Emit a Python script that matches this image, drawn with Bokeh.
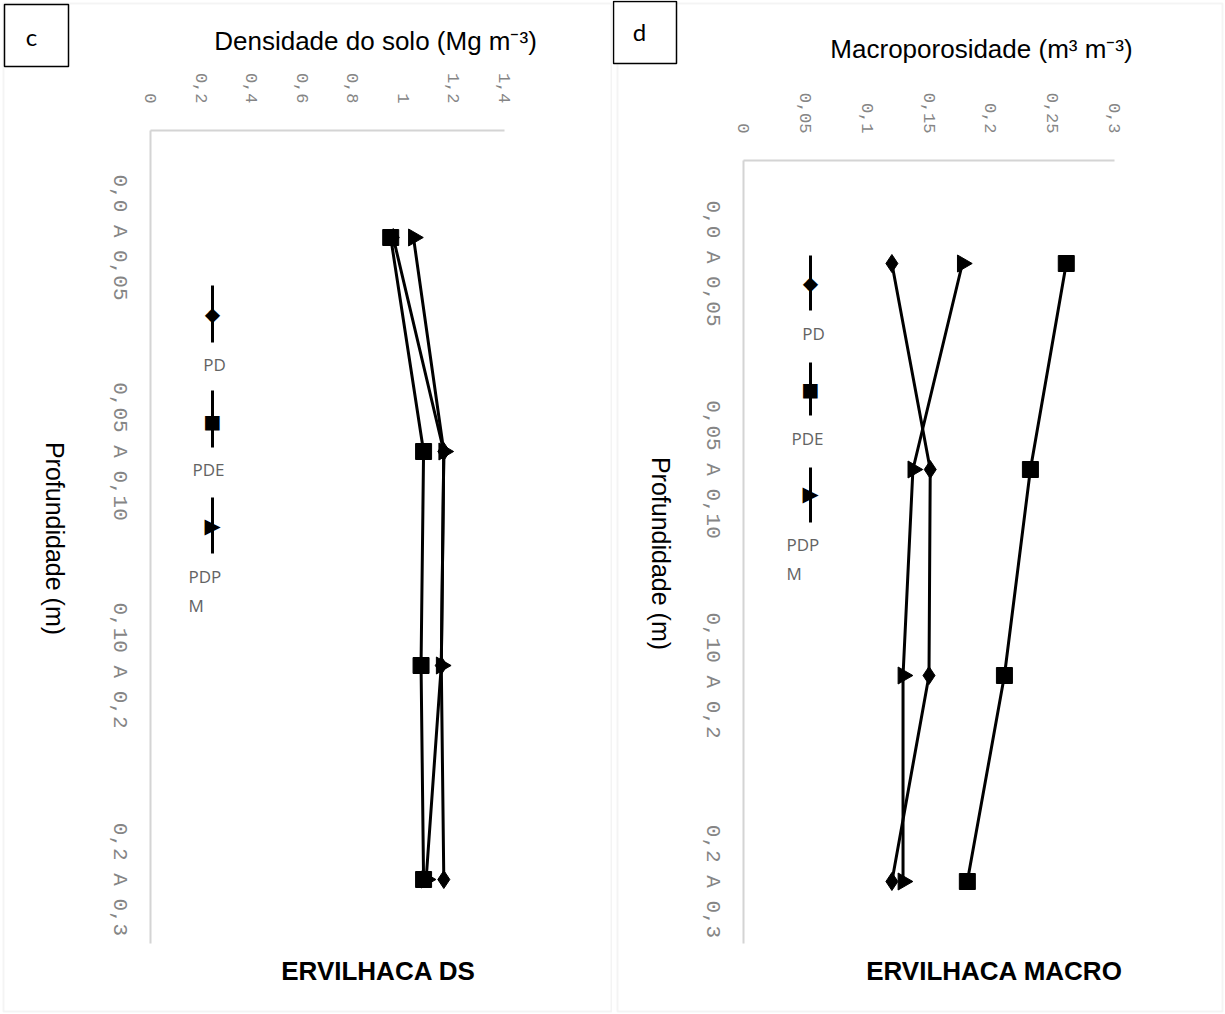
import math
from bokeh.plotting import figure
from bokeh.layouts import row
from bokeh.models import (Range1d, FixedTicker, Label, LabelSet, BoxAnnotation, Arrow,
                          ColumnDataSource)
from bokeh.core.properties import value
from bokeh.embed import file_html
from bokeh.resources import INLINE

# ---------------- data ----------------
categories = ["0,0 A 0,05", "0,05 A 0,10", "0,10 A 0,2", "0,2 A 0,3"]
series_names = ["PD", "PDE", "PDPM"]

ds_pd = [0.96, 1.16, 1.15, 1.16]
ds_pde = [0.95, 1.08, 1.07, 1.08]
ds_pdpm = [1.04, 1.16, 1.15, 1.09]

macro_pd = [0.120, 0.151, 0.150, 0.120]
macro_pde = [0.261, 0.232, 0.211, 0.181]
macro_pdpm = [0.177, 0.137, 0.129, 0.129]

ds_ticks = [0, 0.2, 0.4, 0.6, 0.8, 1.0, 1.2, 1.4]
ds_tick_labels = ["0", "0,2", "0,4", "0,6", "0,8", "1", "1,2", "1,4"]
macro_ticks = [0, 0.05, 0.1, 0.15, 0.2, 0.25, 0.3]
macro_tick_labels = ["0", "0,05", "0,1", "0,15", "0,2", "0,25", "0,3"]

ds_title = "Densidade do solo (Mg m\u207b\u00b3)"
macro_title = "Macroporosidade (m\u00b3 m\u207b\u00b3)"
depth_title = "Profundidade (m)"
ds_bottom = "ERVILHACA DS"
macro_bottom = "ERVILHACA MACRO"
legend_texts = ["PD", "PDE", "PDP\nM"]

# ---------------- style ----------------
H = 1014
AXIS_GRAY = "#d4d4d4"
TICK_GRAY = "#858585"
LEG_GRAY = "#636363"
MONO = "Liberation Mono"
SANS = "Liberation Sans"

markers = {"PD": "diamond", "PDE": "square", "PDPM": "triangle"}
msizes = {"PD": 18, "PDE": 16, "PDPM": 17}
mangles = {"PD": 0.0, "PDE": 0.0, "PDPM": -math.pi / 2}
leg_chars = {"PD": "\u25c6", "PDE": "\u25a0", "PDPM": "\u25b6"}
leg_sizes = {"PD": "20px", "PDE": "19px", "PDPM": "21px"}

cat_pos = [i + 0.5 for i in range(len(categories))]
Y_EXTENT = len(categories) - 0.2   # category axis ends a little below the last band


def canvas_label(text, x, y, size, font=SANS, color="black", align="center",
                 baseline="middle", angle=0.0, style="normal", line_height=1.2):
    return Label(text=text, x=x, y=y, x_units="canvas", y_units="canvas",
                 angle=angle, text_align=align, text_baseline=baseline,
                 text_font=font, text_font_size=size, text_font_style=style,
                 text_color=color, text_line_height=line_height)


def canvas_box(l, r, t, b, **kw):
    return BoxAnnotation(left=l, right=r, top=t, bottom=b,
                         left_units="canvas", right_units="canvas",
                         top_units="canvas", bottom_units="canvas", **kw)


def make_panel(width, x0_px, xmax_px, y0_px, band_px, x_max, ticks, tick_labels,
               series, title, title_xy, depth_xy, bottom, bottom_xy,
               letter, letter_box, letter_xy, panel_box,
               legend_x, legend_lines, legend_marks, legend_label_pos):
    sx = (xmax_px - x0_px) / x_max
    x_range = Range1d(-x0_px / sx, (width - x0_px) / sx)
    y_range = Range1d((H - y0_px) / band_px, -y0_px / band_px)
    p = figure(width=width, height=H, x_range=x_range, y_range=y_range,
               x_axis_location="above", output_backend="svg", toolbar_location=None,
               min_border=0, background_fill_color="white", border_fill_color="white")
    p.outline_line_color = None
    p.xgrid.visible = False
    p.ygrid.visible = False

    # value axis (top)
    xa = p.xaxis[0]
    xa.fixed_location = 0
    xa.bounds = (0, x_max)
    xa.ticker = FixedTicker(ticks=ticks)
    xa.major_label_overrides = {t: l for t, l in zip(ticks, tick_labels)}
    xa.major_label_orientation = -math.pi / 2
    xa.major_label_standoff = 21
    xa.major_tick_line_color = None
    xa.minor_tick_line_color = None
    xa.axis_line_color = AXIS_GRAY
    xa.axis_line_width = 2
    xa.major_label_text_font = MONO
    xa.major_label_text_font_size = "17px"
    xa.major_label_text_color = TICK_GRAY

    # category axis (left)
    ya = p.yaxis[0]
    ya.fixed_location = 0
    ya.bounds = (0, Y_EXTENT)
    ya.ticker = FixedTicker(ticks=[])
    ya.major_tick_line_color = None
    ya.minor_tick_line_color = None
    ya.axis_line_color = AXIS_GRAY
    ya.axis_line_width = 2

    cat_src = ColumnDataSource(dict(y=cat_pos, text=categories))
    p.add_layout(LabelSet(x=0, y="y", text="text", source=cat_src, x_offset=-31,
                          angle=-math.pi / 2, text_align="center", text_baseline="middle",
                          text_font=value(MONO), text_font_size=value("21px"),
                          text_color=TICK_GRAY))

    order = ["PD", "PDPM", "PDE"]
    for name in order:
        p.line(series[name], cat_pos, line_color="black", line_width=3)
    for name in order:
        p.scatter(series[name], cat_pos, marker=markers[name], size=msizes[name],
                  angle=mangles[name], fill_color="black", line_color="black")

    # panel frame
    p.add_layout(canvas_box(*panel_box, fill_alpha=0, line_color="#d9d9d9", line_width=2))
    # letter box
    p.add_layout(canvas_box(*letter_box, fill_color="white", fill_alpha=1,
                            line_color="black", line_alpha=1.0, line_width=1.5))
    p.add_layout(canvas_label(letter, letter_xy[0], letter_xy[1], "24px", font="Lato"))
    # titles
    p.add_layout(canvas_label(title, title_xy[0], title_xy[1], "26px"))
    p.add_layout(canvas_label(depth_title, depth_xy[0], depth_xy[1], "25px",
                              angle=-math.pi / 2))
    p.add_layout(canvas_label(bottom, bottom_xy[0], bottom_xy[1], "26px", style="bold"))

    # legend (vertical entries, as in the original)
    for name, (y0, y1), ym, lab, (lx, ly, la) in zip(series_names, legend_lines, legend_marks,
                                                      legend_texts, legend_label_pos):
        p.add_layout(Arrow(start=None, end=None, x_start=legend_x, y_start=y0,
                           x_end=legend_x, y_end=y1,
                           start_units="canvas", end_units="canvas",
                           line_color="black", line_width=3))
        p.add_layout(canvas_label(leg_chars[name], legend_x, ym, leg_sizes[name],
                                  font="DejaVu Sans"))
        p.add_layout(canvas_label(lab, lx, ly, "17px", font="Open Sans", color=LEG_GRAY,
                                  align=la, baseline="top", line_height=1.3))
    return p


p_ds = make_panel(
    width=612, x0_px=150, xmax_px=504, y0_px=130, band_px=214,
    x_max=1.4, ticks=ds_ticks, tick_labels=ds_tick_labels,
    series={"PD": ds_pd, "PDE": ds_pde, "PDPM": ds_pdpm},
    title=ds_title, title_xy=(375, 40), depth_xy=(54, 538),
    bottom=ds_bottom, bottom_xy=(378, 970),
    letter="c", letter_box=(4, 68, 4, 66), letter_xy=(31, 36),
    panel_box=(3, 611, 3, 1011),
    legend_x=212,
    legend_lines=[(285, 342), (390, 447), (497, 553)],
    legend_marks=[313, 420, 525],
    legend_label_pos=[(214, 352, "center"), (208, 457, "center"), (188, 564, "left")],
)

p_macro = make_panel(
    width=613, x0_px=131, xmax_px=502, y0_px=160, band_px=206,
    x_max=0.3, ticks=macro_ticks, tick_labels=macro_tick_labels,
    series={"PD": macro_pd, "PDE": macro_pde, "PDPM": macro_pdpm},
    title=macro_title, title_xy=(369, 48), depth_xy=(48, 553),
    bottom=macro_bottom, bottom_xy=(382, 970),
    letter="d", letter_box=(1, 64, 1, 63), letter_xy=(27, 31),
    panel_box=(5, 610, 3, 1011),
    legend_x=198,
    legend_lines=[(255, 310), (362, 415), (467, 522)],
    legend_marks=[282, 388, 493],
    legend_label_pos=[(201, 321, "center"), (195, 426, "center"), (174, 532, "left")],
)

layout = row(p_ds, p_macro, spacing=0)
open("out.html", "w").write(file_html(layout, INLINE))
